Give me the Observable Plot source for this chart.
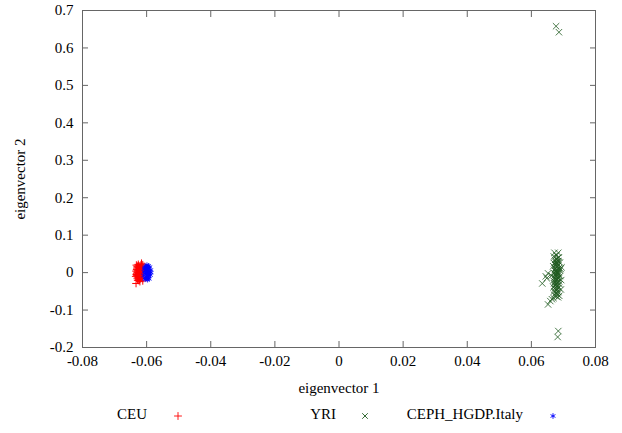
<!DOCTYPE html>
<html>
<head>
<meta charset="utf-8">
<script src="https://cdn.jsdelivr.net/npm/d3@7"></script>
<script src="https://cdn.jsdelivr.net/npm/@observablehq/plot@0.6"></script>
<style>
  html, body { margin: 0; padding: 0; background: #fff; }
  #wrap { position: relative; width: 622px; height: 433px; }
  #wrap, #wrap div, #wrap svg, #wrap svg text { font-family: 'Liberation Serif', 'Times New Roman', serif !important; }
  #legend { position: absolute; left: 0; top: 406px; width: 622px; height: 22px; font-size: 15px; }
  .item { position: absolute; top: 0; display: flex; align-items: center; }
  .lab { text-align: right; }
</style>
</head>
<body>
<div id="wrap"><div id="chart"></div><div id="legend"></div></div>
<script>
// ---- data ----
const seriesNames = ["CEU", "YRI", "CEPH_HGDP.Italy"];
const seriesColors = ["#ff0000", "#1f5a1f", "#0000ff"];
const seriesSymbols = ["plus", "times", "asterisk"];

const ceuX = [-0.0628,-0.0625,-0.0621,-0.0630,-0.0619,-0.0624,-0.0616,-0.0632,-0.0627,-0.0622,-0.0612,-0.0633,-0.0630,-0.0626,-0.0618,-0.0623,-0.0629,-0.0620,-0.0614,-0.0633,-0.0631,-0.0624,-0.0617,-0.0628,-0.0621,-0.0615,-0.0612,-0.0626,-0.0634,-0.0619,-0.0613,-0.0627,-0.0622,-0.0630,-0.0616,-0.0625,-0.0632,-0.0611,-0.0620,-0.0629,-0.0624,-0.0618,-0.0626,-0.0614,-0.0631,-0.0621,-0.0617,-0.0628,-0.0623,-0.0612];
const ceuY = [0.002,-0.004,0.006,-0.008,0.012,0.018,0.025,0.020,-0.012,-0.018,-0.022,-0.029,0.010,0.014,-0.006,-0.001,-0.015,0.003,0.009,0.004,-0.003,0.008,-0.012,-0.020,-0.024,0.016,0.021,0.022,-0.010,-0.016,-0.002,0.006,0.012,0.015,0.004,-0.008,-0.005,0.012,-0.010,0.000,-0.014,0.020,-0.021,-0.015,0.008,0.000,0.010,0.017,-0.006,0.005];

const italyX = [-0.0602,-0.0597,-0.0595,-0.0607,-0.0592,-0.0600,-0.0605,-0.0589,-0.0598,-0.0594,-0.0603,-0.0609,-0.0591,-0.0596,-0.0601,-0.0587,-0.0599,-0.0606,-0.0593,-0.0604,-0.0590,-0.0597,-0.0608,-0.0595,-0.0602,-0.0588,-0.0600,-0.0605,-0.0594,-0.0598,-0.0592,-0.0603,-0.0586,-0.0601,-0.0596];
const italyY = [0.000,0.005,-0.006,0.010,0.012,-0.012,-0.018,0.002,0.016,-0.015,0.006,-0.008,-0.003,0.009,-0.004,0.007,0.020,0.014,-0.010,-0.014,0.015,-0.019,0.002,0.003,0.011,-0.007,0.008,-0.002,0.018,-0.009,-0.017,0.017,0.000,-0.016,-0.001];

const yriX = [0.0672,0.0684,0.0678,0.0670,0.0686,0.0680,0.0674,0.0683,0.0677,0.0689,0.0671,0.0681,0.0676,0.0684,0.0668,0.0694,0.0679,0.0675,0.0682,0.0688,0.0673,0.0679,0.0685,0.0670,0.0677,0.0683,0.0674,0.0690,0.0663,0.0679,0.0672,0.0684,0.0676,0.0681,0.0652,0.0668,0.0686,0.0674,0.0680,0.0671,0.0688,0.0675,0.0682,0.0634,0.0678,0.0669,0.0685,0.0673,0.0692,0.0679,0.0671,0.0684,0.0676,0.0681,0.0672,0.0687,0.0678,0.0669,0.0683,0.0664,0.0659,0.0652,0.0645,0.0648,0.0677,0.0681,0.0675,0.0683,0.0679,0.0676,0.0682,0.0678,0.0680,0.0674,0.0684,0.0677,0.0681,0.0675,0.0679,0.0682,0.0673,0.0686,0.0678,0.0680,0.0684,0.0691,0.0693,0.0677,0.0686,0.0684,0.0682];
const yriY = [0.053,0.053,0.046,0.043,0.041,0.037,0.034,0.031,0.029,0.027,0.025,0.023,0.021,0.019,0.017,0.014,0.014,0.011,0.009,0.007,0.005,0.003,0.001,-0.001,-0.003,-0.005,-0.007,-0.009,-0.008,-0.011,-0.013,-0.015,-0.017,-0.019,-0.002,-0.021,-0.023,-0.025,-0.027,-0.029,-0.031,-0.033,-0.035,-0.029,-0.037,-0.039,-0.041,-0.043,-0.045,-0.047,-0.050,-0.052,-0.055,-0.058,-0.060,-0.062,-0.064,-0.068,-0.066,-0.071,-0.076,-0.085,-0.010,-0.015,0.004,0.018,-0.020,-0.008,0.000,0.027,0.039,-0.030,-0.044,0.010,0.030,-0.005,-0.025,0.020,0.035,-0.015,-0.036,0.012,-0.052,0.025,-0.002,0.010,-0.020,0.658,0.642,-0.156,-0.172];

const xTicks = [-0.08,-0.06,-0.04,-0.02,0,0.02,0.04,0.06,0.08];
const yTicks = [-0.2,-0.1,0,0.1,0.2,0.3,0.4,0.5,0.6,0.7];
const xTitle = "eigenvector 1";
const yTitle = "eigenvector 2";

// ---- build ----
const toRows = (xs, ys, s) => xs.map((x, i) => ({x, y: ys[i], s}));
const ceu = toRows(ceuX, ceuY, "CEU");
const yri = toRows(yriX, yriY, "YRI");
const italy = toRows(italyX, italyY, "CEPH_HGDP.Italy");
const fmt = d => String(+d.toFixed(2));
const frameColor = "#666";
const serif = "'Liberation Serif', 'Times New Roman', serif";

const chart = Plot.plot({
  width: 622,
  height: 433,
  marginLeft: 82,
  marginRight: 27,
  marginTop: 10,
  marginBottom: 86,
  style: {fontFamily: serif, fontSize: "15px", color: "black", background: "white"},
  x: {domain: [-0.08, 0.08]},
  y: {domain: [-0.2, 0.7]},
  marks: [
    Plot.frame({stroke: frameColor}),
    Plot.axisX({anchor: "bottom", ticks: xTicks, tickSize: 0, tickPadding: 8, tickFormat: fmt, fontSize: 15, fontFamily: serif,
      label: xTitle, labelAnchor: "center", labelOffset: 45, labelArrow: "none"}),
    Plot.axisY({anchor: "left", ticks: yTicks, tickSize: 0, tickPadding: 9, tickFormat: fmt, fontSize: 15, fontFamily: serif,
      label: yTitle, labelAnchor: "center", labelOffset: 68, labelArrow: "none"}),
    Plot.axisX({anchor: "bottom", ticks: xTicks, tickSize: -6, tickFormat: () => "", stroke: frameColor, label: null}),
    Plot.axisX({anchor: "top", ticks: xTicks, tickSize: -6, tickFormat: () => "", stroke: frameColor, label: null}),
    Plot.axisY({anchor: "left", ticks: yTicks, tickSize: -6, tickFormat: () => "", stroke: frameColor, label: null}),
    Plot.axisY({anchor: "right", ticks: yTicks, tickSize: -6, tickFormat: () => "", stroke: frameColor, label: null}),
    Plot.dot(ceu, {x: "x", y: "y", symbol: seriesSymbols[0], stroke: seriesColors[0], r: 2.6, strokeWidth: 1}),
    Plot.dot(yri, {x: "x", y: "y", symbol: seriesSymbols[1], stroke: seriesColors[1], r: 3, strokeWidth: 0.8}),
    Plot.dot(italy, {x: "x", y: "y", symbol: seriesSymbols[2], stroke: seriesColors[2], r: 2.6, strokeWidth: 0.8})
  ]
});
document.getElementById("chart").appendChild(chart);

// ---- legend (below the plot) ----
const legend = d3.select("#legend");
const labelRight = [147, 336, 523];
const symbolX = [178, 365, 553];
seriesNames.forEach((name, i) => {
  legend.append("div").attr("class", "item lab")
    .style("left", (labelRight[i] - 200) + "px").style("width", "200px")
    .style("justify-content", "flex-end")
    .text(name);
  const svg = legend.append("svg").attr("width", 12).attr("height", 12)
    .style("position", "absolute").style("left", (symbolX[i] - 6) + "px").style("top", "4px");
  const sym = {plus: d3.symbolPlus, times: d3.symbolTimes, asterisk: d3.symbolAsterisk}[seriesSymbols[i]];
  svg.append("path").attr("transform", "translate(6,6)")
    .attr("d", d3.symbol(sym, 22)())
    .attr("fill", "none").attr("stroke", seriesColors[i]).attr("stroke-width", 0.9);
});
</script>
</body>
</html>
